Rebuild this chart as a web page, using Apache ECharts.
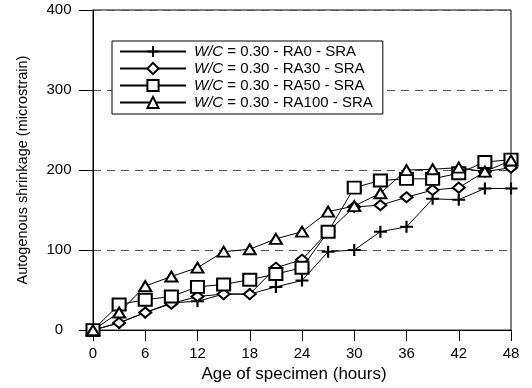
<!DOCTYPE html>
<html>
<head>
<meta charset="utf-8">
<script src="https://cdn.jsdelivr.net/npm/echarts@6/dist/echarts.min.js"></script>
<style>
  html, body { margin: 0; padding: 0; background: #fff; }
  #chart { width: 532px; height: 388px; }
</style>
</head>
<body>
<div id="chart"></div>
<script>
// Age of specimen (hours)
const hours = [0, 3, 6, 9, 12, 15, 18, 21, 24, 27, 30, 33, 36, 39, 42, 45, 48];

// Autogenous shrinkage (microstrain) per mix
const ra0   = [0, 9, 22, 34, 36, 45, 45, 54, 62, 98, 100, 123, 129, 164, 163, 177, 177];
const ra30  = [0, 9, 22, 33, 42, 45, 45, 78, 88, 123, 154, 156, 166, 175, 178, 198, 203];
const ra50  = [0, 32, 38, 42, 54, 57, 63, 70, 78, 123, 178, 187, 189, 189, 196, 210, 213];
const ra100 = [0, 22, 55, 67, 78, 98, 101, 114, 123, 148, 155, 171, 200, 201, 203, 198, 212];

const seriesNames = [
  'W/C = 0.30 - RA0 - SRA',
  'W/C = 0.30 - RA30 - SRA',
  'W/C = 0.30 - RA50 - SRA',
  'W/C = 0.30 - RA100 - SRA'
];

const xTicks = [0, 6, 12, 18, 24, 30, 36, 42, 48];
const yTicks = [0, 100, 200, 300, 400];

const FONT = 'Liberation Sans, Arial, sans-serif';
const PLUS = 'path://M5,0H7V5H12V7H7V12H5V7H0V5H5Z';

function pairs(values) {
  return hours.map((h, i) => [h, values[i]]);
}

function makeSeries(name, values, symbol, size, bw) {
  return {
    name: name,
    type: 'line',
    data: pairs(values),
    symbol: symbol,
    symbolSize: size,
    showAllSymbol: true,
    lineStyle: { color: '#000', width: 1 },
    itemStyle: { color: '#000', borderColor: '#000', borderWidth: bw },
    emphasis: { disabled: true },
    animation: false,
    z: 3
  };
}

const chart = echarts.init(document.getElementById('chart'), null, { renderer: 'canvas' });

chart.setOption({
  backgroundColor: '#fff',
  animation: false,
  grid: {
    left: 93, right: 21, top: 10, bottom: 55,
    show: true, borderColor: '#000', borderWidth: 1
  },
  legend: {
    left: 112, top: 41,
    orient: 'vertical',
    data: seriesNames,
    itemWidth: 66,
    itemHeight: 14,
    itemGap: 2,
    padding: [3, 10, 4, 7],
    borderColor: '#000',
    borderWidth: 1,
    backgroundColor: '#fff',
    selectedMode: false,
    formatter: function (name) {
      return name.replace('W/C', '{it|W/C}');
    },
    textStyle: {
      fontFamily: FONT, fontSize: 15, color: '#000', lineHeight: 14,
      padding: [0, 0, 0, 3],
      rich: {
        it: { fontFamily: FONT, fontSize: 15, fontStyle: 'italic', color: '#000', lineHeight: 14 }
      }
    }
  },
  xAxis: {
    type: 'value',
    min: 0, max: 48, interval: 6,
    name: 'Age of specimen (hours)',
    nameLocation: 'middle',
    nameGap: 33,
    nameTextStyle: { fontFamily: FONT, fontSize: 17, color: '#000', padding: [0, 16, 0, 0] },
    axisLine: { show: true, onZero: false, lineStyle: { color: '#000', width: 1 } },
    axisTick: { show: true, inside: false, length: 11, lineStyle: { color: '#000' } },
    axisLabel: {
      fontFamily: FONT, fontSize: 15, color: '#000', margin: 16,
      formatter: function (v) { return xTicks.indexOf(v) >= 0 ? String(v) : ''; }
    },
    splitLine: { show: false }
  },
  yAxis: {
    type: 'value',
    min: 0, max: 400, interval: 100,
    name: 'Autogenous shrinkage (microstrain)',
    nameLocation: 'middle',
    nameGap: 63,
    nameTextStyle: { fontFamily: FONT, fontSize: 14.5, color: '#000' },
    axisLine: { show: true, onZero: false, lineStyle: { color: '#000', width: 1 } },
    axisTick: { show: true, inside: false, length: 14, lineStyle: { color: '#000' } },
    axisLabel: {
      fontFamily: FONT, fontSize: 15, color: '#000', margin: 34, align: 'center',
      formatter: function (v) { return yTicks.indexOf(v) >= 0 ? String(v) : ''; }
    },
    splitLine: {
      show: true,
      lineStyle: { color: '#555', width: 1, type: [8, 6] }
    }
  },
  series: [
    makeSeries(seriesNames[0], ra0, PLUS, [13, 12], 0),
    makeSeries(seriesNames[1], ra30, 'emptyDiamond', [12, 10], 1.8),
    makeSeries(seriesNames[2], ra50, 'emptyRect', [13, 12], 1.8),
    makeSeries(seriesNames[3], ra100, 'emptyTriangle', [12, 10], 1.8)
  ]
});
</script>
</body>
</html>
